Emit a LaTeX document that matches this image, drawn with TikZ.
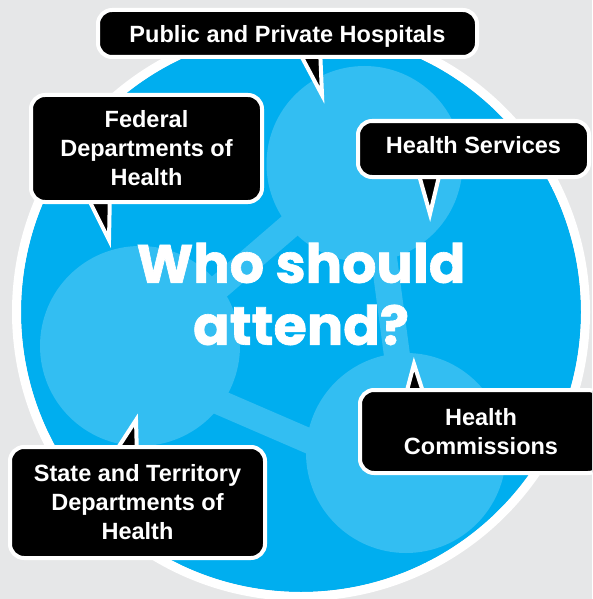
\documentclass[tikz,border=0pt]{standalone}
\usepackage{fontspec}
\setmainfont{Liberation Sans}
\newfontfamily\titlefont{Poppins}[BoldFeatures={FakeBold=1.2}]
\definecolor{bg}{RGB}{230,231,232}
\definecolor{cyanA}{RGB}{0,174,239}
\definecolor{cyanL}{RGB}{51,190,242}
\begin{document}
\begin{tikzpicture}[x=1pt,y=-1pt,
  callout/.style={draw=white, line width=4pt, fill=black, rounded corners=14pt,
    text=white, font=\fontsize{23.5}{29}\selectfont\bfseries, align=center, inner sep=0pt},
  pointer/.style={draw=white, line width=4pt, fill=black, line join=miter},
  bar/.style={draw=cyanL, line width=25pt},
  lightdisc/.style={fill=cyanL},
  titletext/.style={font=\titlefont\bfseries\fontsize{54}{62}\selectfont, text=white, align=center, inner sep=0pt}
]
\useasboundingbox (0,0) rectangle (592,599);
\fill[bg] (0,0) rectangle (592,599);
\begin{scope}
\clip (0,0) rectangle (592,599);
% main disc
\fill[cyanA] (301,312) circle[radius=280pt];
\begin{scope}
  \clip (301,312) circle[radius=280pt];
  \fill[lightdisc] (364.5,164) circle[radius=98pt];
  \fill[lightdisc] (140,346) circle[radius=100pt];
  \fill[lightdisc] (406,453) circle[radius=100pt];
  \draw[bar] (140,355) -- (365,161);
  \draw[bar] (140,368) -- (406,483);
  \draw[bar, line width=26pt] (372,168) -- (410,453);
\end{scope}
\draw[white, line width=9pt] (301,312) circle[radius=284.5pt];

% title
\node[titletext] (title) at (301,294) {Who should\\attend?};

% pointer tips
\coordinate (t1) at (322,95);
\coordinate (t2) at (109,240);
\coordinate (t3) at (430,214);
\coordinate (t4) at (414,364);
\coordinate (t5) at (136,420);

\draw[pointer] (297,48) -- (320,48) -- (t1) -- cycle;
\draw[pointer] (84,190) -- (110,190) -- (t2) -- cycle;
\draw[pointer] (417,168) -- (441,168) -- (t3) -- cycle;
\draw[pointer] (405,398) -- (425,398) -- (t4) -- cycle;
\draw[pointer] (112,457) -- (137,457) -- (t5) -- cycle;

% callouts
\node[callout, minimum width=379pt, minimum height=47pt, text height=19pt, text depth=0pt]
  (pub) at (287.5,33.5) {Public and Private Hospitals};
\node[callout, minimum width=231pt, minimum height=107pt]
  (fed) at (146.5,148.5) {Federal\\Departments of\\Health};
\node[callout, minimum width=231pt, minimum height=56pt, text height=17pt, text depth=9pt]
  (serv) at (473.5,149) {Health Services};
\node[callout, minimum width=242pt, minimum height=83pt]
  (comm) at (481,431.5) {Health\\Commissions};
\node[callout, minimum width=255pt, minimum height=111pt]
  (state) at (137.5,502.5) {State and Territory\\Departments of\\Health};
\end{scope}
\end{tikzpicture}
\end{document}
